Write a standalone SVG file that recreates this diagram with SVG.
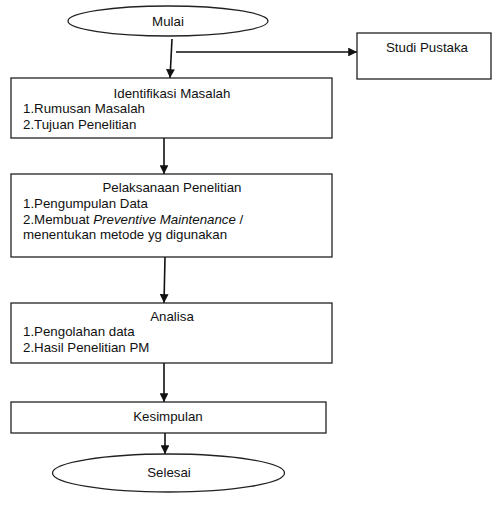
<svg xmlns="http://www.w3.org/2000/svg" width="496" height="515" viewBox="0 0 496 515">
<style>
.box{fill:#fff;stroke:#222;stroke-width:1.3}
.t{font-family:"Liberation Sans",Arial,sans-serif;font-size:13.3px;fill:#111}
.c{text-anchor:middle}
.ln{stroke:#111;stroke-width:1.6;fill:none}
</style>
<defs>
<marker id="ah" viewBox="0 0 10 10" refX="10" refY="5" markerWidth="5.5" markerHeight="5.5" orient="auto" markerUnits="strokeWidth">
<path d="M0,0 L10,5 L0,10 Z" fill="#111"/>
</marker>
</defs>
<rect width="496" height="515" fill="#fff"/>
<g id="connectors">
<line class="ln" x1="172" y1="39" x2="170" y2="78" marker-end="url(#ah)"/>
<line class="ln" x1="176" y1="52" x2="357" y2="52" marker-end="url(#ah)"/>
<line class="ln" x1="164" y1="138" x2="164" y2="174" marker-end="url(#ah)"/>
<line class="ln" x1="165" y1="257" x2="164" y2="303" marker-end="url(#ah)"/>
<line class="ln" x1="164" y1="363" x2="164" y2="402" marker-end="url(#ah)"/>
<line class="ln" x1="165" y1="433" x2="165" y2="454" marker-end="url(#ah)"/>
</g>
<g id="mulai">
<ellipse class="box" cx="168" cy="21" rx="100" ry="15"/>
<text class="t c" x="168" y="26">Mulai</text>
</g>
<g id="studi">
<rect class="box" x="357" y="33" width="134" height="46"/>
<text class="t c" x="427" y="52">Studi Pustaka</text>
</g>
<g id="identifikasi">
<rect class="box" x="11" y="78" width="321" height="60"/>
<text class="t c" x="172" y="98">Identifikasi Masalah</text>
<text class="t" x="23" y="113">1.Rumusan Masalah</text>
<text class="t" x="23" y="129">2.Tujuan Penelitian</text>
</g>
<g id="pelaksanaan">
<rect class="box" x="11" y="174" width="321" height="83"/>
<text class="t c" x="172" y="192">Pelaksanaan Penelitian</text>
<text class="t" x="23" y="208">1.Pengumpulan Data</text>
<text class="t" x="23" y="224">2.Membuat <tspan font-style="italic">Preventive Maintenance</tspan> /</text>
<text class="t" x="23" y="239">menentukan metode yg digunakan</text>
</g>
<g id="analisa">
<rect class="box" x="11" y="303" width="321" height="60"/>
<text class="t c" x="172" y="321">Analisa</text>
<text class="t" x="23" y="336">1.Pengolahan data</text>
<text class="t" x="23" y="352">2.Hasil Penelitian PM</text>
</g>
<g id="kesimpulan">
<rect class="box" x="11" y="402" width="315" height="31"/>
<text class="t c" x="168" y="421">Kesimpulan</text>
</g>
<g id="selesai">
<ellipse class="box" cx="168.5" cy="473" rx="116" ry="19"/>
<text class="t c" x="169" y="477">Selesai</text>
</g>
</svg>
